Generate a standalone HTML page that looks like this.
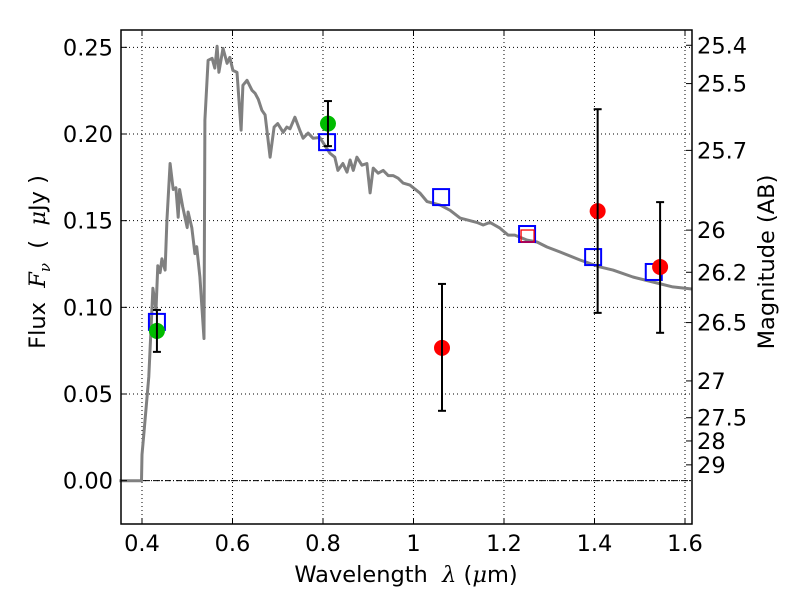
<!DOCTYPE html>
<html><head><meta charset="utf-8"><style>
body{margin:0;background:#fff;}
svg{display:block;font-family:"DejaVu Sans","Liberation Sans",sans-serif;}
text{white-space:pre;}
</style></head><body>
<svg id="chart" width="800" height="600">
<rect width="800" height="600" fill="#fff"/>
<g id="grid"></g><g id="marks"></g><g id="axes"></g>
</svg>
<script>
const specX=[0.35,0.399,0.40,0.405,0.415,0.424,0.431,0.435,0.44,0.444,0.451,0.455,0.462,0.469,0.475,0.48,0.483,0.49,0.50,0.502,0.51,0.517,0.521,0.528,0.537,0.539,0.546,0.555,0.561,0.566,0.57,0.579,0.588,0.594,0.601,0.61,0.619,0.623,0.632,0.643,0.65,0.657,0.665,0.672,0.683,0.692,0.70,0.712,0.72,0.727,0.738,0.749,0.756,0.767,0.778,0.793,0.804,0.815,0.826,0.833,0.844,0.853,0.86,0.867,0.875,0.886,0.897,0.904,0.911,0.922,0.933,0.944,0.955,0.966,0.977,0.992,1.014,1.03,1.059,1.081,1.103,1.14,1.154,1.169,1.191,1.209,1.224,1.251,1.273,1.295,1.324,1.368,1.412,1.441,1.485,1.529,1.573,1.615];
const specY=[0,0,0.015,0.03,0.06,0.111,0.0985,0.124,0.12,0.128,0.1215,0.150,0.183,0.168,0.169,0.152,0.168,0.158,0.146,0.155,0.146,0.131,0.135,0.1175,0.082,0.208,0.2425,0.2437,0.238,0.2506,0.2356,0.2494,0.2408,0.2442,0.2367,0.2356,0.2022,0.2281,0.231,0.2252,0.2235,0.22,0.2137,0.211,0.1866,0.204,0.206,0.201,0.204,0.203,0.2097,0.202,0.1976,0.2005,0.1976,0.198,0.1935,0.189,0.1866,0.179,0.183,0.178,0.185,0.179,0.1866,0.182,0.183,0.166,0.1803,0.1774,0.179,0.176,0.176,0.1745,0.1717,0.1705,0.166,0.161,0.159,0.156,0.1515,0.149,0.1475,0.149,0.1457,0.1417,0.1417,0.1388,0.1377,0.1348,0.1319,0.1273,0.1233,0.1215,0.1175,0.1146,0.1118,0.1106];
const modelX=[0.433,0.809,1.061,1.251,1.397,1.531];
const modelY=[0.0916,0.1953,0.1636,0.1423,0.129,0.1204];
const greenX=[0.433,0.811];
const greenY=[0.0864,0.206];
const greenLo=[0.0743,0.193];
const greenHi=[0.0985,0.219];
const redX=[1.063,1.407,1.545];
const redY=[0.0766,0.1555,0.1233];
const redLo=[0.0403,0.0968,0.0853];
const redHi=[0.1135,0.2143,0.1607];
const xTicks=[0.4,0.6,0.8,1.0,1.2,1.4,1.6];
const xTickLabels=["0.4","0.6","0.8","1","1.2","1.4","1.6"];
const yTicks=[0,0.05,0.1,0.15,0.2,0.25];
const yTickLabels=["0.00","0.05","0.10","0.15","0.20","0.25"];
const magTicks=[25.4,25.5,25.7,26,26.2,26.5,27,27.5,28,29];
const magLabels=["25.4","25.5","25.7","26","26.2","26.5","27","27.5","28","29"];

const L=121,R=692,T=30,B=524,x0=0.3536,x1=1.6155,y0=-0.025,y1=0.26;
const X=v=>L+(v-x0)/(x1-x0)*(R-L);
const Y=v=>B-(v-y0)/(y1-y0)*(B-T);
const NS="http://www.w3.org/2000/svg";
function mk(tag,attrs,parent,text){const e=document.createElementNS(NS,tag);for(const k in attrs)e.setAttribute(k,attrs[k]);if(text!==undefined)e.textContent=text;document.getElementById(parent).appendChild(e);return e;}
const FS=22.5;
xTicks.forEach((t,i)=>{
 const g=mk('line',{x1:X(t),x2:X(t),y1:T,y2:B,stroke:'#000','stroke-width':1,'stroke-dasharray':'1,3'},'grid');
 
 
 const tk=mk('line',{x1:X(t),x2:X(t),y1:B,y2:B-6,stroke:'#000'},'axes');
 
 
 const tk2=mk('line',{x1:X(t),x2:X(t),y1:T,y2:T+6,stroke:'#000'},'axes');
 
 
 const l=mk('text',{x:X(t),y:B+27,'font-size':FS,'text-anchor':'middle'},'axes',xTickLabels[i]);
 
 
});
yTicks.forEach((t,i)=>{
 const g=mk('line',{x1:L,x2:R,y1:Y(t),y2:Y(t),stroke:'#000','stroke-width':1,'stroke-dasharray':'1,3'},'grid');
 
 
 const tk=mk('line',{x1:L,x2:L+6,y1:Y(t),y2:Y(t),stroke:'#000'},'axes');
 
 
 const l=mk('text',{x:L-8,y:Y(t)+8,'font-size':FS,'text-anchor':'end'},'axes',yTickLabels[i]);
 
 
});
const zl=mk('line',{x1:L,x2:R,y1:Y(0),y2:Y(0),stroke:'#000','stroke-width':1,'stroke-dasharray':'6,2,1,2'},'grid');


magTicks.forEach((m,i)=>{
 const f=Math.pow(10,-0.4*(m-23.9));
 const tk=mk('line',{x1:R-6,x2:R,y1:Y(f),y2:Y(f),stroke:'#000'},'axes');
 
 
 const l=mk('text',{x:R+5,y:Y(f)+8,'font-size':FS},'axes',magLabels[i]);
 
 
});
const pts=specX.map((v,i)=>X(v).toFixed(1)+','+Y(specY[i]).toFixed(1)).join(' ');
const sp=mk('polyline',{points:pts,fill:'none',stroke:'#808080','stroke-width':3,'stroke-linejoin':'round'},'marks');


function eb(x,lo,hi){
 const g=mk('g',{},'marks');
 
 
 const cx=X(x);
 [[cx,Y(lo),cx,Y(hi)],[cx-4,Y(lo),cx+4,Y(lo)],[cx-4,Y(hi),cx+4,Y(hi)]].forEach(a=>{const e=document.createElementNS(NS,'line');e.setAttribute('x1',a[0]);e.setAttribute('y1',a[1]);e.setAttribute('x2',a[2]);e.setAttribute('y2',a[3]);e.setAttribute('stroke','#000');e.setAttribute('stroke-width',2);g.appendChild(e);});
}
modelX.forEach((v,i)=>{
 const s=mk('rect',{x:X(v)-8,y:Y(modelY[i])-8,width:16,height:16,fill:'none',stroke:'#0000ff','stroke-width':2},'marks');
 
 
});
const rs=mk('rect',{x:X(modelX[3])-6,y:Y(modelY[3])-4,width:13,height:12,fill:'none',stroke:'#ff0000','stroke-width':1.3},'marks');


greenX.forEach((v,i)=>{
 const c=mk('circle',{cx:X(v),cy:Y(greenY[i]),r:8,fill:'#00bb00'},'marks');
 
 
 eb(v,greenLo[i],greenHi[i]);
});
redX.forEach((v,i)=>{
 const c=mk('circle',{cx:X(v),cy:Y(redY[i]),r:8,fill:'#ff0000'},'marks');
 
 
 eb(v,redLo[i],redHi[i]);
});
const fr=mk('rect',{x:L,y:T,width:R-L,height:B-T,fill:'none',stroke:'#000','stroke-width':1.5},'axes');


const xl=mk('text',{x:406,y:582,'font-size':FS,'text-anchor':'middle'},'axes');
xl.innerHTML='Wavelength  <tspan font-family="DejaVu Serif,serif" font-style="italic">λ</tspan> (<tspan font-family="DejaVu Serif,serif" font-style="italic">μ</tspan>m)';


const yl=mk('text',{x:0,y:0,'font-size':FS,'text-anchor':'middle',transform:'translate(45,262) rotate(-90)'},'axes');
yl.innerHTML='Flux  <tspan font-family="DejaVu Serif,serif" font-style="italic">F</tspan><tspan font-family="DejaVu Serif,serif" font-style="italic" font-size="15" dy="5">ν</tspan><tspan dy="-5">  (  </tspan><tspan font-family="DejaVu Serif,serif" font-style="italic">μ</tspan>Jy )';


const ml=mk('text',{x:0,y:0,'font-size':FS,'text-anchor':'middle',transform:'translate(774,262) rotate(-90)'},'axes','Magnitude (AB)');


</script>
</body></html>
